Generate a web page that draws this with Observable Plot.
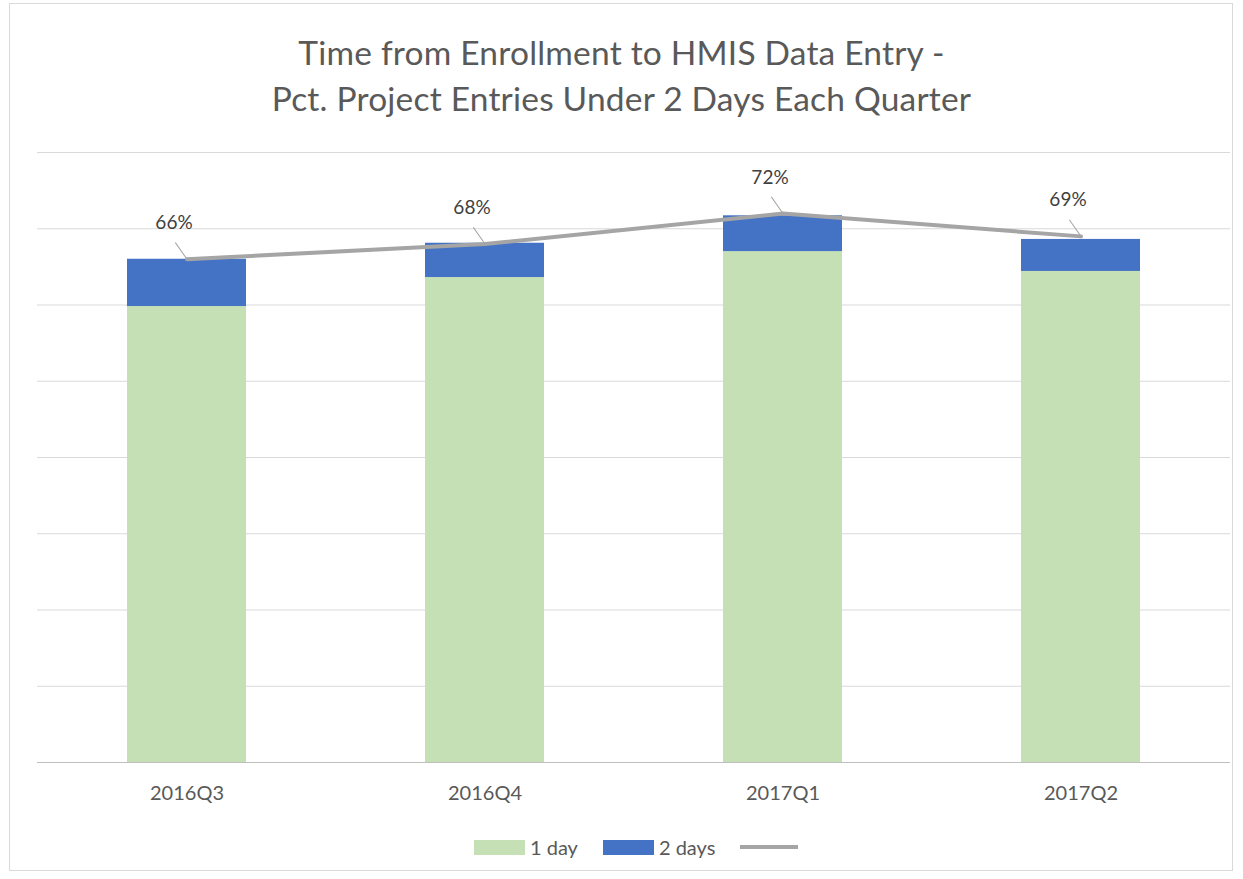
<!DOCTYPE html>
<html><head><meta charset="utf-8">
<script src="https://cdn.jsdelivr.net/npm/d3@7"></script>
<script src="https://cdn.jsdelivr.net/npm/@observablehq/plot@0.6"></script>
<style>
body{margin:0;background:#fff;font-family:Lato,"Open Sans",sans-serif;}
#frame{position:absolute;left:9px;top:3px;width:1224px;height:868px;border:1px solid #d9d9d9;box-sizing:border-box;}
#wrap{position:absolute;left:0;top:0;width:1243px;}
#title{height:140px;box-sizing:border-box;padding-top:29px;text-align:center;color:#595959;font-size:33.5px;line-height:46px;letter-spacing:0.2px;}
#legend{position:absolute;left:474px;top:835px;display:flex;align-items:center;color:#595959;font-size:20px;}
.sw{display:inline-block;width:51px;height:15px;margin-right:5px;}
.item{display:flex;align-items:center;margin-right:25px;}
.ln{display:inline-block;width:58px;height:4px;background:#a5a5a5;}
</style></head>
<body>
<div id="frame"></div>
<div id="wrap">
<div id="title">Time from Enrollment to HMIS Data Entry -<br>Pct. Project Entries Under 2 Days Each Quarter</div>
<div id="chart"></div>
<div id="legend"></div>
</div>
<script>
const quarters = ["2016Q3", "2016Q4", "2017Q1", "2017Q2"];
const oneDay = [0.598, 0.636, 0.670, 0.644];
const twoDays = [0.062, 0.045, 0.047, 0.042];
const under2Days = [0.66, 0.68, 0.72, 0.69];
const seriesNames = ["1 day", "2 days"];
const seriesColors = ["#c5e0b4", "#4472c4"];
const gridTicks = [0.1, 0.2, 0.3, 0.4, 0.5, 0.6, 0.7, 0.8];

const barRows = [];
quarters.forEach((q, i) => {
  barRows.push({quarter: q, series: seriesNames[0], value: oneDay[i]});
  barRows.push({quarter: q, series: seriesNames[1], value: twoDays[i]});
});
const lineRows = quarters.map((q, i) => ({quarter: q, value: under2Days[i]}));

const leaderShape = {draw(context, l) { context.moveTo(0, 0); context.lineTo(0, -l); }};

const chart = Plot.plot({
  width: 1243,
  height: 680,
  marginTop: 12,
  marginBottom: 58,
  marginLeft: 37,
  marginRight: 13,
  style: {fontFamily: "Lato, 'Open Sans', sans-serif", background: "transparent"},
  x: {domain: quarters, paddingInner: 0.6, paddingOuter: 0.3, label: null},
  y: {domain: [0, 0.8], axis: null},
  color: {domain: seriesNames, range: seriesColors},
  marks: [
    Plot.ruleY(gridTicks, {stroke: "#d9d9d9", strokeWidth: 1}),
    Plot.barY(barRows, Plot.stackY({x: "quarter", y: "value", fill: "series"})),
    Plot.ruleY([0], {stroke: "#bfbfbf", strokeWidth: 1}),
    Plot.axisX({tickSize: 0, tickPadding: 23, fontSize: 20, fill: "#595959", label: null}),
    Plot.line(lineRows, {x: "quarter", y: "value", stroke: "#a5a5a5", strokeWidth: 4}),
    Plot.vector(lineRows, {x: "quarter", y: "value", length: 20, rotate: -35, anchor: "start", shape: leaderShape, stroke: "#a5a5a5", strokeWidth: 1}),
    Plot.text(lineRows, {x: "quarter", y: "value", text: d => Math.round(d.value * 100) + "%", dx: -13, dy: -36, fill: "#404040", fontSize: 19})
  ]
});
document.getElementById("chart").appendChild(chart);

const legend = document.getElementById("legend");
seriesNames.forEach((s, i) => {
  const it = document.createElement("div");
  it.className = "item";
  it.innerHTML = `<span class="sw" style="background:${seriesColors[i]}"></span><span>${s}</span>`;
  legend.appendChild(it);
});
const li = document.createElement("div");
li.className = "item";
li.innerHTML = `<span class="ln"></span>`;
legend.appendChild(li);
</script>
</body></html>
